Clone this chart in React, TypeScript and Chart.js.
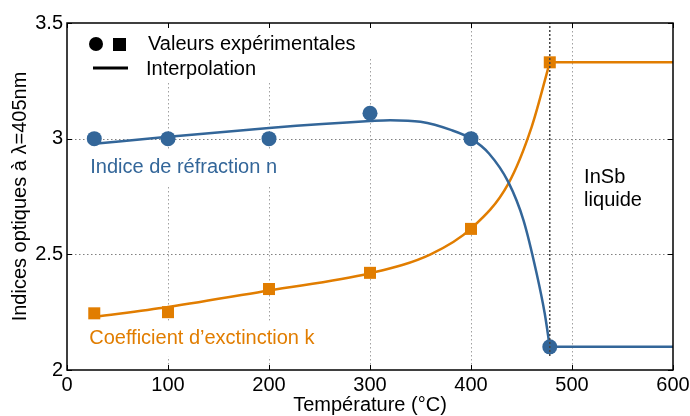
import React, { useEffect, useRef } from "react";
import { Chart, registerables } from "chart.js";

Chart.register(...registerables);

// ---- Data ----
const temps = [27, 100, 200, 300, 400, 478];
const nValues = [3.0, 3.0, 3.0, 3.11, 3.0, 2.1];
const kValues = [2.245, 2.25, 2.35, 2.42, 2.61, 3.33];

// interpolation curves
const nCurveT = [27, 100, 200, 300, 320, 350, 380, 400, 418, 437, 452, 465, 473, 478];
const nCurveV = [2.978, 3.008, 3.046, 3.076, 3.08, 3.073, 3.038, 3.0, 2.935, 2.812, 2.647, 2.417, 2.244, 2.1];
const kCurveT = [27, 100, 200, 300, 360, 400, 437, 460, 478];
const kCurveV = [2.229, 2.272, 2.344, 2.418, 2.5, 2.611, 2.806, 3.05, 3.33];

// liquid phase (flat)
const liquidT = [478, 600];
const nLiquid = [2.1, 2.1];
const kLiquid = [3.33, 3.33];

// melting point marker line
const meltT = [478, 478];
const meltV = [2.06, 3.5];

const xTicks = [0, 100, 200, 300, 400, 500, 600];
const yTicks = [2, 2.5, 3, 3.5];
const xGrid = [100, 200, 300, 400, 500];
const yGrid = [2.5, 3];

const BLUE = "#336699";
const ORANGE = "#E17D00";
const FONT = "'Liberation Sans', Arial, Helvetica, sans-serif";

const pts = (xs: number[], ys: number[]) => xs.map((x, i) => ({ x, y: ys[i] }));

function boxedText(ctx: any, text: string, x: number, y: number, color: string) {
  const w = ctx.measureText(text).width;
  ctx.fillStyle = "#fff";
  ctx.fillRect(x - 4, y - 18, w + 8, 36);
  ctx.fillStyle = color;
  ctx.fillText(text, x, y);
}

const decorPlugin = {
  id: "decor",
  beforeDatasetsDraw(chart: any) {
    const { ctx, chartArea: a, scales } = chart;
    const x = scales.x, y = scales.y;
    ctx.save();
    // dotted grid
    ctx.lineWidth = 1;
    ctx.setLineDash([1.5, 2.5]);
    ctx.strokeStyle = "#a0a0a0";
    xGrid.forEach((t) => {
      const px = Math.round(x.getPixelForValue(t)) + 0.5;
      ctx.beginPath();
      ctx.moveTo(px, a.top);
      ctx.lineTo(px, a.bottom);
      ctx.stroke();
    });
    ctx.strokeStyle = "#808080";
    yGrid.forEach((v) => {
      const py = Math.round(y.getPixelForValue(v)) + 0.5;
      ctx.beginPath();
      ctx.moveTo(a.left, py);
      ctx.lineTo(a.right, py);
      ctx.stroke();
    });
    ctx.setLineDash([]);
    // legend box (white)
    ctx.fillStyle = "#fff";
    ctx.fillRect(a.left + 1, a.top + 1, 296, 58);
    ctx.fillRect(a.left + 1, a.top + 1, 310, 33);
    // legend symbols
    ctx.fillStyle = "#000";
    ctx.beginPath();
    ctx.arc(96, 44, 7, 0, Math.PI * 2);
    ctx.fill();
    ctx.fillRect(113, 38, 13, 13);
    ctx.strokeStyle = "#000";
    ctx.lineWidth = 3;
    ctx.beginPath();
    ctx.moveTo(93, 68);
    ctx.lineTo(128, 68);
    ctx.stroke();
    ctx.font = `20px ${FONT}`;
    ctx.textBaseline = "middle";
    ctx.textAlign = "left";
    ctx.fillText("Valeurs expérimentales", 148, 44);
    ctx.fillText("Interpolation", 146, 69);
    // annotations with white boxes
    boxedText(ctx, "Indice de réfraction n", x.getPixelForValue(23), y.getPixelForValue(2.875), BLUE);
    boxedText(ctx, "Coefficient d\u2019exctinction k", x.getPixelForValue(22), y.getPixelForValue(2.135), ORANGE);
    ctx.fillStyle = "#000";
    ctx.fillText("InSb", x.getPixelForValue(512), y.getPixelForValue(2.833));
    ctx.fillText("liquide", x.getPixelForValue(512), y.getPixelForValue(2.733));
    ctx.restore();
  },
  afterDatasetsDraw(chart: any) {
    const { ctx, chartArea: a, scales } = chart;
    const x = scales.x, y = scales.y;
    ctx.save();
    // frame
    ctx.strokeStyle = "#000";
    ctx.lineWidth = 1.5;
    ctx.strokeRect(a.left, a.top, a.right - a.left, a.bottom - a.top);
    // inward ticks
    ctx.lineWidth = 1;
    const TL = 5;
    xTicks.forEach((t) => {
      const px = Math.round(x.getPixelForValue(t)) + 0.5;
      ctx.beginPath();
      ctx.moveTo(px, a.bottom);
      ctx.lineTo(px, a.bottom - TL);
      ctx.moveTo(px, a.top);
      ctx.lineTo(px, a.top + TL);
      ctx.stroke();
    });
    yTicks.forEach((v) => {
      const py = Math.round(y.getPixelForValue(v)) + 0.5;
      ctx.beginPath();
      ctx.moveTo(a.left, py);
      ctx.lineTo(a.left + TL, py);
      ctx.moveTo(a.right, py);
      ctx.lineTo(a.right - TL, py);
      ctx.stroke();
    });
    ctx.restore();
  },
};

export default function App() {
  const ref = useRef<HTMLCanvasElement | null>(null);
  useEffect(() => {
    if (!ref.current) return;
    const lineDs = (data: any[], color: string, mono: boolean) => ({
      data,
      showLine: true,
      borderColor: color,
      borderWidth: 2.5,
      pointRadius: 0,
      fill: false,
      cubicInterpolationMode: mono ? "monotone" : "default",
      tension: mono ? 0.4 : 0,
      order: 3,
    });
    const chart = new Chart(ref.current, {
      type: "scatter",
      data: {
        datasets: [
          lineDs(pts(nCurveT, nCurveV), BLUE, true),
          lineDs(pts(liquidT, nLiquid), BLUE, false),
          lineDs(pts(kCurveT, kCurveV), ORANGE, true),
          lineDs(pts(liquidT, kLiquid), ORANGE, false),
          {
            data: pts(temps, nValues),
            pointStyle: "circle",
            pointRadius: 7.5,
            backgroundColor: BLUE,
            borderWidth: 0,
            order: 2,
          },
          {
            data: pts(temps, kValues),
            pointStyle: "rect",
            pointRadius: 8.5,
            backgroundColor: ORANGE,
            borderWidth: 0,
            order: 2,
          },
          {
            data: pts(meltT, meltV),
            showLine: true,
            borderColor: "#444",
            borderWidth: 1.5,
            borderDash: [2, 2],
            pointRadius: 0,
            order: 0,
          },
        ] as any,
      },
      options: {
        animation: false,
        responsive: false,
        devicePixelRatio: 1,
        layout: { padding: { left: 0, right: 17, top: 23, bottom: 0 } },
        plugins: { legend: { display: false }, tooltip: { enabled: false } },
        scales: {
          x: {
            type: "linear",
            min: 0,
            max: 600,
            grid: { display: false, drawTicks: false },
            border: { display: false },
            ticks: {
              stepSize: 100,
              color: "#000",
              padding: 3,
              maxRotation: 0,
              font: { family: FONT, size: 20, lineHeight: 1.2 },
            },
            afterBuildTicks: (s: any) => {
              s.ticks = xTicks.map((v) => ({ value: v }));
            },
            title: {
              display: true,
              text: "Température (°C)",
              color: "#000",
              padding: { top: 0, bottom: 0 },
              font: { family: FONT, size: 20, lineHeight: 1.1 },
            },
            afterFit: (s: any) => {
              s.height = 46;
              s.paddingLeft = 0;
              s.paddingRight = 0;
            },
          },
          y: {
            type: "linear",
            min: 2,
            max: 3.5,
            grid: { display: false, drawTicks: false },
            border: { display: false },
            ticks: {
              color: "#000",
              padding: 4,
              font: { family: FONT, size: 20 },
              callback: (v: any) => String(v),
            },
            afterBuildTicks: (s: any) => {
              s.ticks = yTicks.map((v) => ({ value: v }));
            },
            title: {
              display: true,
              text: "Indices optiques à λ=405nm",
              color: "#000",
              padding: { top: 8, bottom: 0 },
              font: { family: FONT, size: 20, lineHeight: 1.2 },
            },
            afterFit: (s: any) => {
              s.width = 67;
              s.paddingTop = 0;
              s.paddingBottom = 0;
            },
          },
        },
      },
      plugins: [decorPlugin],
    } as any);
    return () => chart.destroy();
  }, []);
  return (
    <div style={{ position: "fixed", left: 0, top: 0, width: 690, height: 416, background: "#fff" }}>
      <canvas ref={ref} width={690} height={416} style={{ width: 690, height: 416, display: "block" }} />
    </div>
  );
}
